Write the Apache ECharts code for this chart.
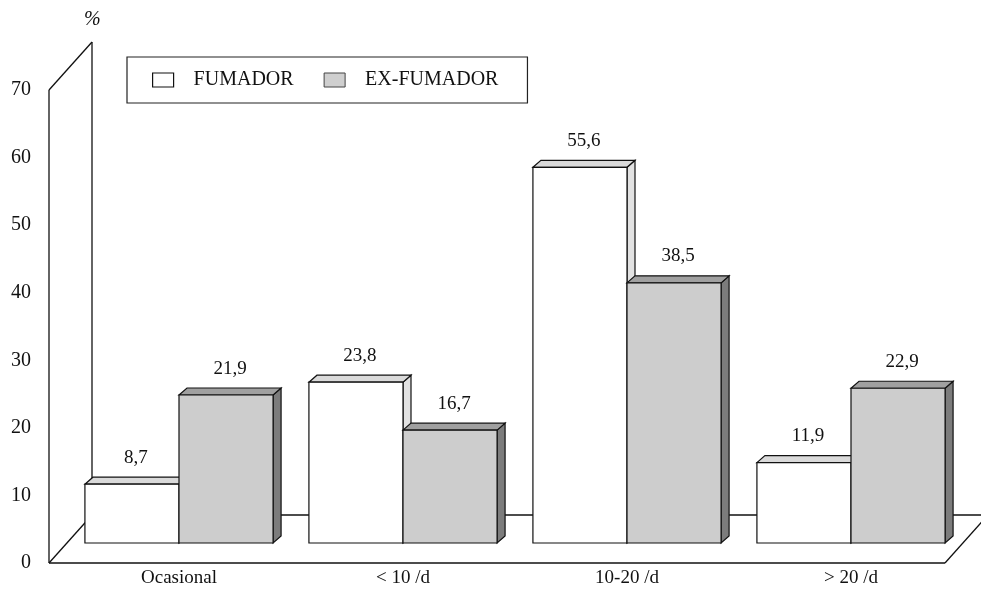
<!DOCTYPE html>
<html>
<head>
<meta charset="utf-8">
<script src="https://cdn.jsdelivr.net/npm/echarts@6/dist/echarts.min.js"></script>
<style>
  html, body { margin: 0; padding: 0; background: #fff; }
  #chart { width: 981px; height: 592px; }
</style>
</head>
<body>
<div id="chart"></div>
<script>
const categories = ['Ocasional', '< 10 /d', '10-20 /d', '> 20 /d'];
const fumador = [8.7, 23.8, 55.6, 11.9];
const exFumador = [21.9, 16.7, 38.5, 22.9];
const yMin = 0, yMax = 70, yStep = 10;

const SERIF = "'Liberation Serif', 'DejaVu Serif', serif";
// pseudo 3D offsets (pixels)
const WALL = [43, -48];   // full depth of the floor / side wall
const PLANE = [18, -20];  // where the bars stand
const THICK = [8, -7];    // bar thickness

const fmt = v => String(v).replace('.', ',');

function barItem(side, faces) {
  return function (params, api) {
    const cat = api.value(0), v = api.value(1);
    const base = api.coord([cat, 0]);
    const top = api.coord([cat, v]);
    const bw = api.size([1, 0])[0] * 0.42;
    const x0 = base[0] + (side === 0 ? -bw : 0) + PLANE[0];
    const y0 = base[1] + PLANE[1];
    const y1 = top[1] + PLANE[1];
    const x1 = x0 + bw;
    const line = { stroke: '#111', lineWidth: 1.2 };
    return {
      type: 'group',
      children: [
        { type: 'polygon', shape: { points: [[x1, y1], [x1 + THICK[0], y1 + THICK[1]], [x1 + THICK[0], y0 + THICK[1]], [x1, y0]] },
          style: Object.assign({ fill: faces.side }, line) },
        { type: 'polygon', shape: { points: [[x0, y1], [x0 + THICK[0], y1 + THICK[1]], [x1 + THICK[0], y1 + THICK[1]], [x1, y1]] },
          style: Object.assign({ fill: faces.top }, line) },
        { type: 'rect', shape: { x: x0, y: y1, width: bw, height: y0 - y1 },
          style: Object.assign({ fill: faces.front }, line) },
        { type: 'text', x: x0 + bw / 2 + THICK[0] / 2, y: y1 - 17,
          style: { text: fmt(v), fill: '#111', font: '19px ' + SERIF, align: 'center', verticalAlign: 'bottom' } }
      ]
    };
  };
}

function frameItem(params, api) {
  const cs = params.coordSys;
  const gx = cs.x, gy = cs.y, gw = cs.width, gb = cs.y + cs.height;
  const s = { stroke: '#111', lineWidth: 1.3 };
  const seg = (a, b) => ({ type: 'line', shape: { x1: a[0], y1: a[1], x2: b[0], y2: b[1] }, style: s });
  return {
    type: 'group',
    children: [
      seg([gx, gy], [gx, gb]),
      seg([gx, gy], [gx + WALL[0], gy + WALL[1]]),
      seg([gx + WALL[0], gy + WALL[1]], [gx + WALL[0], gb + WALL[1]]),
      seg([gx, gb], [gx + gw, gb]),
      seg([gx, gb], [gx + WALL[0], gb + WALL[1]]),
      seg([gx + gw, gb], [gx + gw + WALL[0], gb + WALL[1]]),
      seg([gx + WALL[0], gb + WALL[1]], [gx + gw + WALL[0] + 10, gb + WALL[1]])
    ]
  };
}

const chart = echarts.init(document.getElementById('chart'));
chart.setOption({
  backgroundColor: '#fff',
  animation: false,
  textStyle: { fontFamily: SERIF },
  grid: { left: 49, right: 36, top: 90, bottom: 29 },
  legend: {
    left: 127, top: 57,
    padding: [13, 29, 13, 25],
    borderColor: '#222', borderWidth: 1.2,
    itemWidth: 21, itemHeight: 14, itemGap: 30,
    textStyle: { fontSize: 20, color: '#111', fontFamily: SERIF, padding: [0, 0, 0, 15] },
    data: [
      { name: 'FUMADOR', icon: 'rect', itemStyle: { color: '#fff', borderColor: '#111', borderWidth: 1.2 } },
      { name: 'EX-FUMADOR', icon: 'rect', itemStyle: { color: '#cfcfcf', borderColor: '#444', borderWidth: 1 } }
    ]
  },
  graphic: [
    { type: 'text', left: 84, top: 10, style: { text: '%', font: 'italic 20px ' + SERIF, fill: '#111' } }
  ],
  xAxis: {
    type: 'category',
    data: categories,
    axisLine: { show: false },
    axisTick: { show: false },
    axisLabel: { fontSize: 19, color: '#111', fontFamily: SERIF, margin: 6, padding: [0, 0, 0, 36] }
  },
  yAxis: {
    type: 'value',
    min: yMin, max: yMax, interval: yStep,
    axisLine: { show: false },
    axisTick: { show: false },
    splitLine: { show: false },
    axisLabel: { fontSize: 20, color: '#111', fontFamily: SERIF, margin: 18 }
  },
  series: [
    {
      type: 'custom', name: 'frame', silent: true, z: 1,
      renderItem: frameItem,
      data: [[0, 0]]
    },
    {
      type: 'custom', name: 'FUMADOR', z: 2,
      itemStyle: { color: '#fff' },
      renderItem: barItem(0, { front: '#ffffff', top: '#dadada', side: '#e2e2e2' }),
      encode: { x: 0, y: 1 },
      data: fumador.map((v, i) => [i, v])
    },
    {
      type: 'custom', name: 'EX-FUMADOR', z: 3,
      itemStyle: { color: '#cfcfcf' },
      renderItem: barItem(1, { front: '#cdcdcd', top: '#a0a0a0', side: '#7c7c7c' }),
      encode: { x: 0, y: 1 },
      data: exFumador.map((v, i) => [i, v])
    }
  ]
});
</script>
</body>
</html>
